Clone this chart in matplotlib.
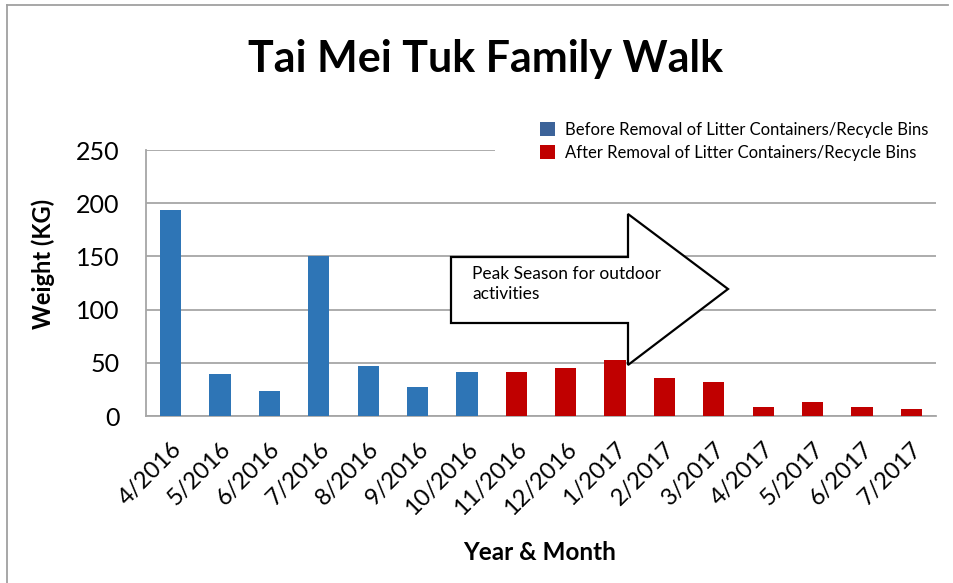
import matplotlib
matplotlib.use("Agg")
import matplotlib.pyplot as plt
from matplotlib.patches import Polygon, Rectangle, Patch
from matplotlib.lines import Line2D

months = ["4/2016", "5/2016", "6/2016", "7/2016", "8/2016", "9/2016", "10/2016",
          "11/2016", "12/2016", "1/2017", "2/2017", "3/2017", "4/2017", "5/2017",
          "6/2017", "7/2017"]
weights = [193.5, 39.5, 23.5, 150, 47, 27, 41.5,
           41, 45, 52.5, 35.5, 31.5, 8, 13, 8, 6.5]
period = ["before"] * 7 + ["after"] * 9
series_names = {"before": "Before Removal of Litter Containers/Recycle Bins",
                "after": "After Removal of Litter Containers/Recycle Bins"}
yticks = [0, 50, 100, 150, 200, 250]

bar_colors = {"before": "#2E75B6", "after": "#C00000"}
legend_colors = {"before": "#3C6399", "after": "#C00000"}

plt.rcParams['font.family'] = ['Lato', 'DejaVu Sans']

fig = plt.figure(figsize=(9.54, 5.83), dpi=100)
ax = fig.add_axes([146/954, 1-416/583, (936-146)/954, (416-150)/583])

x = list(range(len(months)))
ax.bar(x, weights, width=0.43, color=[bar_colors[p] for p in period], zorder=3)

ax.set_xlim(-0.5, len(months) - 0.5)
ax.set_ylim(0, 250)
ax.set_yticks(yticks)
ax.yaxis.grid(True, color="#A6A6A6", linewidth=1.3, zorder=0)
ax.set_axisbelow(True)
for s in ["top", "right"]:
    ax.spines[s].set_visible(False)
for s in ["left", "bottom"]:
    ax.spines[s].set_color("#A6A6A6")
    ax.spines[s].set_linewidth(1.3)
ax.tick_params(axis="y", length=0, pad=19, labelsize=18)
ax.tick_params(axis="x", length=0, pad=16, labelsize=17)
ax.set_xticks(x)
ax.set_xticklabels(months, rotation=45, ha="right", va="top", rotation_mode="anchor")

ax.set_ylabel("Weight (KG)", fontsize=17, fontweight="bold")
ax.set_xlabel("Year & Month", fontsize=17.5, fontweight="bold")
ax.xaxis.set_label_coords((540-146)/790, (416-541)/266)
ax.yaxis.set_label_coords((55-146)/790, 0.573)

# white area behind legend (covers top gridline)
ax.add_patch(Rectangle(((495-146)/790, 0.93), (936-495)/790, 0.3, transform=ax.transAxes,
                       facecolor="white", edgecolor="none", zorder=2, clip_on=False))

handles = [Patch(facecolor=legend_colors[k], edgecolor="none") for k in ["before", "after"]]
leg = ax.legend(handles, [series_names["before"], series_names["after"]],
                loc="upper left", bbox_to_anchor=((540-146)/790, (416-122)/266),
                frameon=False, fontsize=12, handlelength=0.9, handleheight=0.9,
                handletextpad=0.6, labelspacing=0.4, borderaxespad=0, borderpad=0)

# block arrow
pts_px = [(451, 257), (628, 257), (628, 214), (728, 289), (628, 365), (628, 323), (451, 323)]
pts = [((px - 146) / 790, (416 - py) / 266) for px, py in pts_px]
ax.add_patch(Polygon(pts, closed=True, transform=ax.transAxes, facecolor="white",
                     edgecolor="black", linewidth=1.6, zorder=4, joinstyle="miter"))
ax.text((472-146)/790, (416-284)/266, "Peak Season for outdoor\nactivities", transform=ax.transAxes,
        fontsize=12.5, ha="left", va="center", zorder=5, linespacing=1.35)

fig.text(485/954, 1-59/583, "Tai Mei Tuk Family Walk", fontsize=31, fontweight="bold",
         ha="center", va="center")

# figure border lines (left and top)
fig.add_artist(Line2D([7/954, 7/954], [0, 1-5/583], transform=fig.transFigure, color="#A0A0A0", linewidth=1.3))
fig.add_artist(Line2D([7/954, 948/954], [1-5/583, 1-5/583], transform=fig.transFigure, color="#A0A0A0", linewidth=1.3))

fig.savefig("out.png", dpi=100)
